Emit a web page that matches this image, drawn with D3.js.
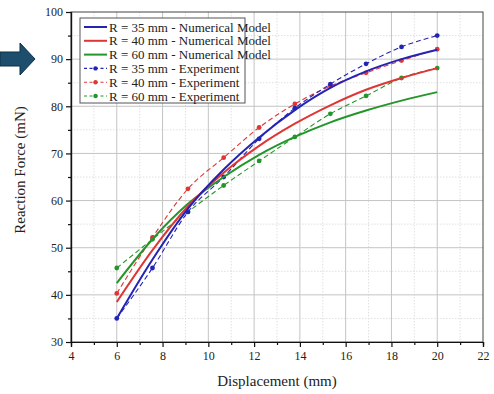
<!DOCTYPE html>
<html>
<head>
<meta charset="utf-8">
<script src="https://cdn.jsdelivr.net/npm/d3@7"></script>
<style>
  body{margin:0;background:#fff;}
  svg text{font-family:"Liberation Serif","Times New Roman",serif;}
</style>
</head>
<body>
<div id="chart"></div>
<script>
// data
var xVals=[6,7.56,9.11,10.67,12.22,13.78,15.33,16.89,18.44,20];
var model35=[35,47.5,58.3,66.6,73.4,79.2,83.9,87.4,90.0,92.0];
var model40=[38.5,49.5,58.8,65.9,71.6,76.3,80.2,83.5,86.0,88.1];
var model60=[42.5,51.8,59.3,65.0,69.7,73.5,76.6,79.1,81.2,83.0];
var exp35=[35,45.7,57.6,65.0,73.1,79.6,84.7,89.0,92.6,95.0];
var exp40=[40.3,52.2,62.5,69.1,75.5,80.5,84.3,87.1,89.7,92.1];
var exp60=[45.7,51.8,57.6,63.2,68.4,73.5,78.4,82.2,86.0,88.1];
var xTicks=[4,6,8,10,12,14,16,18,20,22];
var yTicks=[30,40,50,60,70,80,90,100];
var legendLabels=["R = 35 mm - Numerical Model","R = 40 mm - Numerical Model","R = 60 mm - Numerical Model",
                  "R = 35 mm - Experiment","R = 40 mm - Experiment","R = 60 mm - Experiment"];

var W=494,H=394;
var margin={top:12,right:11,bottom:52,left:71},
    width=W-margin.left-margin.right,
    height=H-margin.top-margin.bottom;

var svg=d3.select("#chart").append("svg")
          .attr("width",W)
          .attr("height",H);

var xScale=d3.scaleLinear().domain([4,22]).range([0,width]);
var yScale=d3.scaleLinear().domain([30,100]).range([height,0]);

var g=svg.append("g").attr("transform","translate("+margin.left+","+margin.top+")");

//grid - minor dotted, major solid
var minorX=d3.range(5,22,2), minorY=d3.range(35,100,10);
g.append("g").selectAll("line").data(minorX).enter().append("line")
  .attr("x1",d=>xScale(d)).attr("x2",d=>xScale(d)).attr("y1",0).attr("y2",height)
  .attr("stroke","#d8d8d8").attr("stroke-width",0.8).attr("stroke-dasharray","1.5,1.5");
g.append("g").selectAll("line").data(minorY).enter().append("line")
  .attr("y1",d=>yScale(d)).attr("y2",d=>yScale(d)).attr("x1",0).attr("x2",width)
  .attr("stroke","#d8d8d8").attr("stroke-width",0.8).attr("stroke-dasharray","1.5,1.5");
g.append("g").selectAll("line").data(xTicks.slice(1,-1)).enter().append("line")
  .attr("x1",d=>xScale(d)).attr("x2",d=>xScale(d)).attr("y1",0).attr("y2",height)
  .attr("stroke","#c4c4c4").attr("stroke-width",1);
g.append("g").selectAll("line").data(yTicks.slice(1,-1)).enter().append("line")
  .attr("y1",d=>yScale(d)).attr("y2",d=>yScale(d)).attr("x1",0).attr("x2",width)
  .attr("stroke","#c4c4c4").attr("stroke-width",1);

//frame top/right
g.append("rect").attr("x",0).attr("y",0).attr("width",width).attr("height",height)
  .attr("fill","none").attr("stroke","#444").attr("stroke-width",1);

//axes
var xAxis=g.append("g").attr("transform","translate(0,"+height+")")
  .call(d3.axisBottom(xScale).tickValues(xTicks).tickSize(5).tickPadding(4));
var xMinor=g.append("g").attr("transform","translate(0,"+height+")")
  .call(d3.axisBottom(xScale).tickValues(minorX).tickSize(3).tickFormat(""));
var yAxis=g.append("g")
  .call(d3.axisLeft(yScale).tickValues(yTicks).tickSize(5).tickPadding(3));
var yMinor=g.append("g")
  .call(d3.axisLeft(yScale).tickValues(minorY).tickSize(3).tickFormat(""));
[xAxis,xMinor,yAxis,yMinor].forEach(function(a){
  a.attr("font-family",null);
  a.select(".domain").attr("stroke","#111").attr("stroke-width",1.2);
  a.selectAll(".tick line").attr("stroke","#111").attr("stroke-width",1.2);
  a.selectAll("text").style("font-size","12px").attr("fill","#222");
});

//series
var series=[
  {vals:model35,color:"#2323b4",dash:null,dots:false},
  {vals:model40,color:"#e03535",dash:null,dots:false},
  {vals:model60,color:"#23962a",dash:null,dots:false},
  {vals:exp35,color:"#2323b4",dash:"5,3",dots:true},
  {vals:exp40,color:"#e03535",dash:"5,3",dots:true},
  {vals:exp60,color:"#23962a",dash:"5,3",dots:true}
];
var line=d3.line().x(d=>xScale(d[0])).y(d=>yScale(d[1])).curve(d3.curveMonotoneX);

series.slice().reverse().forEach(function(s){
  var pts=xVals.map((x,i)=>[x,s.vals[i]]);
  g.append("path").datum(pts)
    .attr("d",line)
    .attr("fill","none")
    .attr("stroke",s.color)
    .attr("stroke-width",s.dash?1.1:2)
    .attr("stroke-dasharray",s.dash);
  if(s.dots){
    g.append("g").selectAll("circle").data(pts).enter().append("circle")
      .attr("cx",d=>xScale(d[0])).attr("cy",d=>yScale(d[1])).attr("r",2.4)
      .attr("fill",s.color);
  }
});

//legend
var leg=svg.append("g").attr("transform","translate(80,18)");
leg.append("rect").attr("x",0).attr("y",0).attr("width",165).attr("height",85)
  .attr("fill","#fff").attr("stroke","#555").attr("stroke-width",1);
var rows=leg.selectAll("g.row").data(series).enter().append("g")
  .attr("class","row")
  .attr("transform",(d,i)=>"translate(0,"+(9+i*13.8)+")");
rows.append("line").attr("x1",4).attr("x2",27).attr("y1",0).attr("y2",0)
  .attr("stroke",d=>d.color).attr("stroke-width",d=>d.dash?1.1:2)
  .attr("stroke-dasharray",d=>d.dash?"3,2.5":null);
rows.filter(d=>d.dots).append("circle").attr("cx",15.5).attr("cy",0).attr("r",2.2).attr("fill",d=>d.color);
rows.append("text").attr("x",29).attr("y",4.5)
  .style("font-size","13px").attr("fill","#222")
  .text((d,i)=>legendLabels[i]);

//axis titles
svg.append("text").attr("x",margin.left+width/2).attr("y",386)
  .attr("text-anchor","middle").style("font-size","15px").attr("fill","#222")
  .text("Displacement (mm)");
svg.append("text").attr("transform","translate(25,170) rotate(-90)")
  .attr("text-anchor","middle").style("font-size","15px").attr("fill","#222")
  .text("Reaction Force (mN)");

//arrow on the left
svg.append("path")
  .attr("d","M0,52 L20,52 L20,43 L35,59 L20,75 L20,66 L0,66 Z")
  .attr("fill","#1d4e6e").attr("stroke","#0f2f45").attr("stroke-width",1);
</script>
</body>
</html>
